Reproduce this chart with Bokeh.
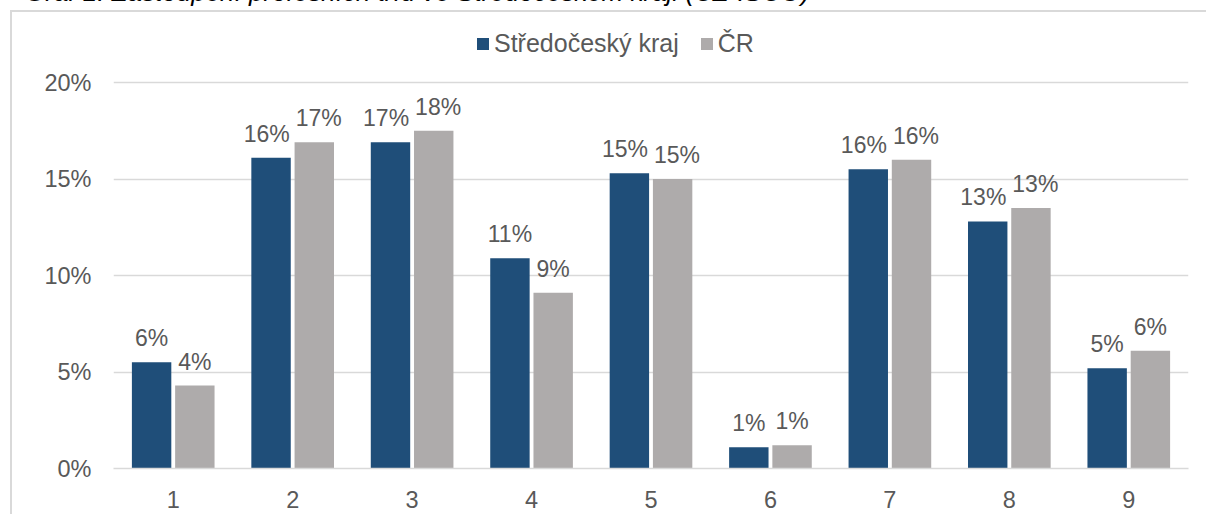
from bokeh.plotting import figure
from bokeh.models import (FactorRange, Range1d, Legend, LegendItem, ColumnDataSource,
                          Div, NumeralTickFormatter, FixedTicker)
from bokeh.transform import dodge
from bokeh.layouts import column
from bokeh.core.properties import value
from bokeh.embed import file_html
from bokeh.resources import INLINE

# ---- data ----
title_text = "Graf 1: Zastoupení profesních tříd ve Středočeském kraji (CZ-ISCO)"
categories = ["1", "2", "3", "4", "5", "6", "7", "8", "9"]
series_names = ["Středočeský kraj", "ČR"]
stredocesky = [0.055, 0.161, 0.169, 0.109, 0.153, 0.011, 0.155, 0.128, 0.052]
cr = [0.043, 0.169, 0.175, 0.091, 0.150, 0.012, 0.160, 0.135, 0.061]
stredocesky_labels = ["6%", "16%", "17%", "11%", "15%", "1%", "16%", "13%", "5%"]
cr_labels = ["4%", "17%", "18%", "9%", "15%", "1%", "16%", "13%", "6%"]
y_ticks = [0.0, 0.05, 0.10, 0.15, 0.20]

BLUE = "#1F4E79"
GRAY = "#AEABAB"
TXT = "#595959"
GRID = "#D9D9D9"
FONT = "Liberation Sans"
FS = 23

W, H = 1198, 504
TOP, BOTTOM, LEFT = 10, 48, 101
RIGHT = W - 1176
frame_h = H - TOP - BOTTOM          # 446 px ; 20 % sits 386 px above 0 %
frame_w = W - LEFT - RIGHT
y_top = 0.20 * frame_h / 386.0
px_per_y = frame_h / y_top
px_per_cat = frame_w / len(categories)

off = 0.181
bw = 0.33


# simple label collision avoidance (layout only, derived from the data)
def text_w(s):
    return FS * sum(0.889 if ch == "%" else 0.556 for ch in s)


xo_s, xo_c = [], []
for vs, vc, ls, lc in zip(stredocesky, cr, stredocesky_labels, cr_labels):
    dx = 2 * off * px_per_cat
    over = (text_w(ls) + text_w(lc)) / 2 + 6 - dx
    if over > 0 and abs(vs - vc) * px_per_y < 20:
        xo_s.append(-over / 2)
        xo_c.append(over / 2)
    else:
        xo_s.append(0.0)
        xo_c.append(0.0)

src = ColumnDataSource(dict(cat=categories, s=stredocesky, c=cr,
                            sl=stredocesky_labels, cl=cr_labels,
                            xos=xo_s, xoc=xo_c))

p = figure(x_range=FactorRange(*categories, range_padding=0),
           y_range=Range1d(0, y_top), title=None,
           width=W, height=H, output_backend="svg", toolbar_location=None,
           min_border_left=LEFT, min_border_right=RIGHT,
           min_border_top=TOP, min_border_bottom=BOTTOM,
           styles={"border-top": "2px solid #D9D9D9",
                   "border-left": "2px solid #D9D9D9"})
p.outline_line_color = None
p.background_fill_color = "white"
p.border_fill_color = "white"

r1 = p.vbar(x=dodge("cat", -off, range=p.x_range), top="s", width=bw, source=src,
            fill_color=BLUE, line_color=None)
r2 = p.vbar(x=dodge("cat", off, range=p.x_range), top="c", width=bw, source=src,
            fill_color=GRAY, line_color=None)

p.text(x=dodge("cat", -off, range=p.x_range), y="s", text="sl", source=src,
       x_offset="xos", text_align="center", text_baseline="alphabetic", y_offset=-24,
       text_font=value(FONT), text_font_size=f"{FS}px", text_color=TXT)
p.text(x=dodge("cat", off, range=p.x_range), y="c", text="cl", source=src,
       x_offset="xoc", text_align="center", text_baseline="alphabetic", y_offset=-24,
       text_font=value(FONT), text_font_size=f"{FS}px", text_color=TXT)

# axes
p.yaxis.ticker = FixedTicker(ticks=y_ticks)
p.yaxis.formatter = NumeralTickFormatter(format="0%")
p.yaxis.axis_line_color = None
p.yaxis.major_tick_line_color = None
p.yaxis.minor_tick_line_color = None
p.yaxis.major_tick_out = 0
p.yaxis.major_tick_in = 0
p.yaxis.major_label_standoff = 22
p.yaxis.major_label_text_font = FONT
p.yaxis.major_label_text_font_size = "23.5px"
p.yaxis.major_label_text_color = TXT

p.xaxis.axis_line_color = GRID
p.xaxis.axis_line_width = 1.5
p.xaxis.major_tick_line_color = None
p.xaxis.minor_tick_line_color = None
p.xaxis.major_tick_out = 0
p.xaxis.major_tick_in = 0
p.xaxis.major_label_standoff = 22
p.xaxis.major_label_text_font = FONT
p.xaxis.major_label_text_font_size = "23.5px"
p.xaxis.major_label_text_color = TXT

p.xgrid.grid_line_color = None
p.ygrid.grid_line_color = GRID
p.ygrid.grid_line_width = 1.5

legend = Legend(items=[LegendItem(label=series_names[0], renderers=[r1]),
                       LegendItem(label=series_names[1], renderers=[r2])],
                orientation="horizontal", location=(362, 410),
                glyph_width=15, glyph_height=15, label_standoff=4, spacing=20,
                padding=0, margin=0, border_line_color=None,
                background_fill_alpha=0,
                label_text_font=FONT, label_text_font_size="25px",
                label_text_color=TXT)
p.add_layout(legend, "center")

title = Div(text='<span style="margin-left:10px">' + title_text + '</span>',
            width=W + 2, height=27,
            styles={"font-family": "Liberation Sans", "font-style": "italic",
                    "font-size": "26px", "color": "#000000", "line-height": "29px",
                    "white-space": "nowrap"})

root = column(title, p, spacing=0,
              styles={"margin-top": "-27px", "margin-left": "10px"})

open("out.html", "w").write(file_html(root, INLINE))
